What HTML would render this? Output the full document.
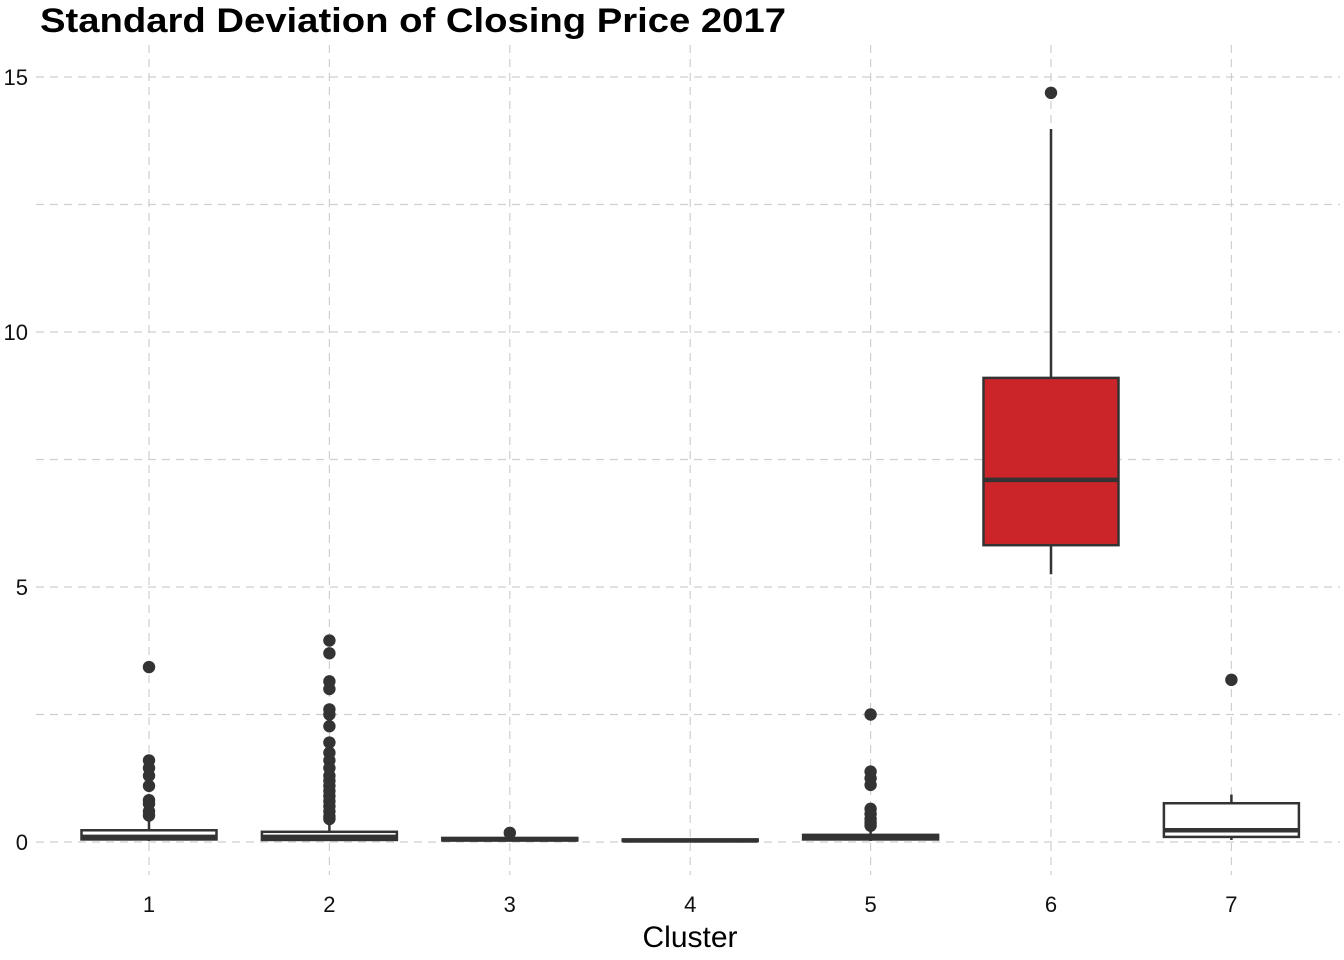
<!DOCTYPE html>
<html><head><meta charset="utf-8"><style>
html,body{margin:0;padding:0;background:#fff;}
svg{display:block;font-family:"Liberation Sans",sans-serif;}
</style></head><body>
<svg id="chart" width="1344" height="960">
<text x="40" y="32" font-size="34" font-weight="bold" fill="#000" textLength="746" lengthAdjust="spacingAndGlyphs">Standard Deviation of Closing Price 2017</text>
<g id="grid"></g><g id="marks"></g><g id="axes"></g>
<text x="690" y="947" font-size="30" text-anchor="middle" fill="#000">Cluster</text>
</svg>
<script>
const categories = ["1","2","3","4","5","6","7"];
const lowerWhisker = [0.02,0.02,0.01,0.01,0.02,5.25,0.04];
const q1 = [0.05,0.04,0.03,0.02,0.05,5.82,0.10];
const medians = [0.10,0.10,0.05,0.03,0.08,7.10,0.23];
const q3 = [0.23,0.20,0.08,0.05,0.14,9.10,0.76];
const upperWhisker = [0.43,0.42,0.12,0.06,0.30,13.98,0.93];
const outliers = [
 [3.43,1.6,1.45,1.3,1.1,0.82,0.75,0.6,0.52],
 [3.95,3.7,3.15,3.0,2.6,2.5,2.27,1.95,1.75,1.6,1.45,1.3,1.2,1.1,1.0,0.9,0.8,0.7,0.6,0.5,0.45],
 [0.18],
 [],
 [2.5,1.38,1.25,1.12,0.65,0.55,0.45,0.38,0.32],
 [14.69],
 [3.18]
];
const fills = ["#fff","#fff","#fff","#fff","#fff","#cc2529","#fff"];
const yTicks = [0,5,10,15];
const yMinor = [2.5,7.5,12.5];

const NS="http://www.w3.org/2000/svg";
const x0=36,x1=1340;
const yScale=v=>842-v*51;
const xScale=i=>149+i*180.4;
const boxW=135;
function mk(tag,attrs,parent){const e=document.createElementNS(NS,tag);for(const k in attrs)e.setAttribute(k,attrs[k]);parent.appendChild(e);return e;}
const grid=document.getElementById('grid'),marks=document.getElementById('marks'),axes=document.getElementById('axes');
yTicks.concat(yMinor).forEach(v=>{
 const l=mk('line',{x1:x0,x2:x1,y1:yScale(v),y2:yScale(v),stroke:'#cfcfcf','stroke-width':1.2,'stroke-dasharray':'8,6'},grid);
 
 
});
categories.forEach((c,i)=>{
 const l=mk('line',{x1:xScale(i),x2:xScale(i),y1:45,y2:875,stroke:'#cfcfcf','stroke-width':1.2,'stroke-dasharray':'8,6'},grid);
 
 
});
yTicks.forEach(v=>{
 const t=mk('text',{x:28,y:yScale(v)+8,'font-size':22,'text-anchor':'end',fill:'#111'},axes);
 t.textContent=v;
 
 
});
categories.forEach((c,i)=>{
 const t=mk('text',{x:xScale(i),y:912,'font-size':22,'text-anchor':'middle',fill:'#111'},axes);
 t.textContent=c;
 
 
 const g=mk('g',{},marks);
 
 
 const cx=xScale(i);
 mk('line',{x1:cx,x2:cx,y1:yScale(upperWhisker[i]),y2:yScale(q3[i]),stroke:'#333','stroke-width':2.5},g);
 mk('line',{x1:cx,x2:cx,y1:yScale(q1[i]),y2:yScale(lowerWhisker[i]),stroke:'#333','stroke-width':2.5},g);
 const h=Math.max(yScale(q1[i])-yScale(q3[i]),1);
 mk('rect',{x:cx-boxW/2,y:yScale(q3[i]),width:boxW,height:h,fill:fills[i],stroke:'#333','stroke-width':2.5},g);
 mk('line',{x1:cx-boxW/2,x2:cx+boxW/2,y1:yScale(medians[i]),y2:yScale(medians[i]),stroke:'#333','stroke-width':4.5},g);
 outliers[i].forEach(v=>{
  const p=mk('circle',{cx:cx,cy:yScale(v),r:6.2,fill:'#333'},g);
  
  
 });
});
</script>
</body></html>
